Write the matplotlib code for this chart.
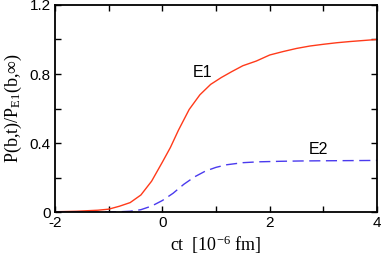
import matplotlib
matplotlib.use("Agg")
import matplotlib.pyplot as plt

plt.rcParams['axes.unicode_minus'] = False
plt.rcParams['mathtext.fontset'] = 'custom'
plt.rcParams['mathtext.rm'] = 'Liberation Serif'
plt.rcParams['mathtext.it'] = 'Liberation Serif:italic'

# E1 curve (red, solid)
e1_x = [-2, -1.6, -1.2, -1.0, -0.8, -0.6, -0.4, -0.2, 0, 0.15, 0.3, 0.5, 0.7,
        0.9, 1.1, 1.3, 1.5, 1.75, 2.0, 2.25, 2.5, 2.75, 3.0, 3.25, 3.5, 3.75, 4]
e1_y = [0.003, 0.006, 0.012, 0.018, 0.035, 0.056, 0.10, 0.18, 0.29, 0.375,
        0.475, 0.595, 0.68, 0.74, 0.78, 0.815, 0.848, 0.875, 0.91, 0.93,
        0.948, 0.962, 0.972, 0.981, 0.988, 0.994, 1.0]

# E2 curve (blue, dashed)
e2_x = [-2, -1.2, -0.8, -0.6, -0.4, -0.2, 0, 0.2, 0.4, 0.6, 0.8, 1.0, 1.2,
        1.5, 1.8, 2.2, 2.6, 3.0, 3.5, 4]
e2_y = [0.0, 0.001, 0.003, 0.006, 0.015, 0.036, 0.068, 0.11, 0.162, 0.205,
        0.238, 0.26, 0.275, 0.287, 0.292, 0.295, 0.297, 0.298, 0.299, 0.30]

xticks = [-2, -1, 0, 1, 2, 3, 4]
xticklabels = ['-2', '', '0', '', '2', '', '4']
yticks = [0, 0.2, 0.4, 0.6, 0.8, 1.0, 1.2]
yticklabels = ['0', '', '0.4', '', '0.8', '', '1.2']

fig = plt.figure(figsize=(3.82, 2.57), dpi=100)
ax = fig.add_axes([0.144, 0.174, 0.843, 0.807])

ax.plot(e1_x, e1_y, color='#ff3a1a', lw=1.0)
ax.plot(e2_x, e2_y, color='#4a3aee', lw=1.0, dashes=(8, 4))

ax.text(0.57, 0.78, 'E1', fontsize=11.5, family='Liberation Sans')
ax.text(2.73, 0.337, 'E2', fontsize=11.5, family='Liberation Sans')

ax.set_xlim(-2, 4)
ax.set_ylim(0, 1.2)
ax.set_xticks(xticks)
ax.set_xticklabels(xticklabels, family='Liberation Sans', fontsize=11)
ax.set_yticks(yticks)
ax.set_yticklabels(yticklabels, family='Liberation Sans', fontsize=11)
ax.tick_params(direction='in', length=4, width=1, top=True, right=True, pad=3)
for s in ax.spines.values():
    s.set_linewidth(1.3)

ax.set_xlabel(r'ct  [10$^{\mathrm{-6}}$ fm]', family='Liberation Serif', fontsize=13, labelpad=2)
ax.set_ylabel(r'P(b,t)/P$_{\mathrm{E1}}$(b,$\infty$)', family='Liberation Serif', fontsize=13, labelpad=4)

fig.savefig('out.png', dpi=100)
